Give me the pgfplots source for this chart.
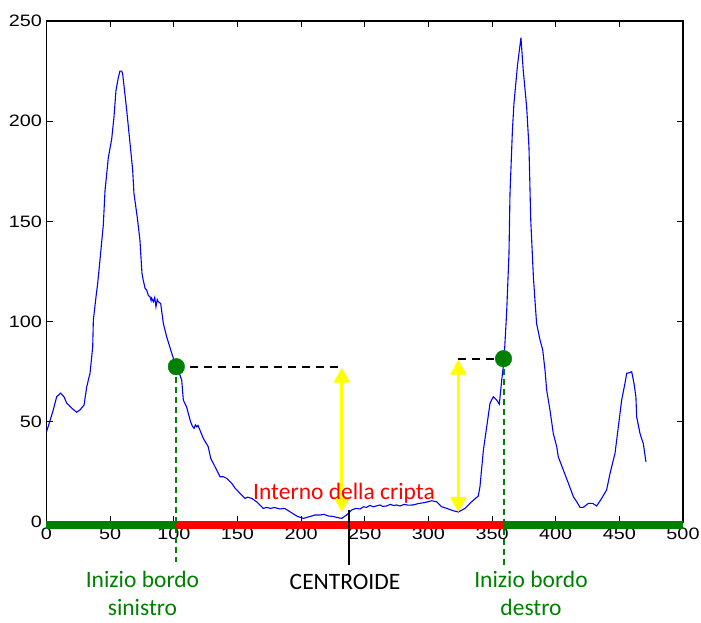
\documentclass[border=0pt]{standalone}
\usepackage{pgfplots}
\pgfplotsset{compat=1.18}
\usepackage{fontspec}
\setmainfont{Carlito}
\newfontfamily\tickfont[FakeStretch=1.2]{Liberation Sans}
\usetikzlibrary{arrows.meta}
\definecolor{mgreen}{RGB}{0,128,0}
\definecolor{myellow}{RGB}{255,255,0}
\tikzset{lbl/.style={anchor=base, inner sep=0pt, font=\fontsize{23.5}{28}\selectfont}}

\begin{document}
\begin{tikzpicture}
\useasboundingbox (-46.5pt,-100pt) rectangle (654.5pt,522pt);
\begin{axis}[
  scale only axis, width=636.5pt, height=501pt,
  xmin=0, xmax=500, ymin=0, ymax=250,
  xtick={0,50,...,500}, ytick={0,50,...,250},
  tick align=inside, major tick length=6pt,
  clip=false,
  axis line style={line width=1.1pt},
  tick style={black, line width=0.9pt},
  tick label style={font=\tickfont\fontsize{16.5}{18}\selectfont},
  /pgf/number format/assume math mode=true,
  xticklabel style={yshift=-2pt},
  yticklabel style={xshift=-1pt},
]
% intensity profile across the crypt
\addplot[blue, line width=1.1pt] coordinates {
(0,45) (2,49) (5.3,55.9) (8,62.5) (11,64.3) (13.7,62.5) (15.9,59.3) (19.8,56.8)
(23.7,54.8) (26.3,55.9) (29.5,58.4) (31.6,67.5) (34.2,74.3) (36.3,87.4) (36.8,100.7)
(38.9,112.4) (40.2,119) (42,130.7) (44.6,148) (46,165.6) (48.6,182) (51.2,191)
(53,202) (54.6,215.5) (56.5,222) (57.7,225) (59,225) (59.8,223.8) (63,205.5)
(65.6,189) (67.7,175.6) (68.7,164) (71.3,152) (73.4,140.6) (75,124) (76,120.7)
(77.4,116.7) (78.7,115.7) (80,113) (81.3,112.4) (82.2,110.5) (82.6,111.7) (84,109.9)
(85,112) (86,107.4) (87,111) (87.8,109.9) (89.7,109) (91.8,99) (94.4,92.4)
(97.6,85.8) (101,79) (104,75) (106.2,70.8) (107.5,60.8) (110,57.5) (113.2,50)
(114.5,48) (115.9,46.7) (117,48.5) (118,47.5) (119,48.2) (120,46.7) (123.2,41.7)
(127,37.6) (129,31.8) (133.7,25.9) (136.3,22.6) (139,22.6) (141.5,21.8) (145.5,19.3)
(148,17) (152,14.3) (156,11.8) (158,12.4) (161.2,11.8) (165,10.1) (170.3,6.8)
(173,7.3) (175.6,6.8) (179,7.2) (183.4,6.5) (187,6.8) (191.3,5.1) (196.5,3)
(201.7,1.8) (205,2.4) (208.3,3) (211,3.5) (214.8,3.5) (218,3.8) (221.4,3)
(225,2.8) (228,2.3) (231.9,1.8) (235.8,3.5) (239.7,6) (243,6.8) (246.3,6.5)
(249,7.6) (251.5,7.3) (254,8.3) (256.7,7.6) (259,8) (262,8.5) (264,7.8)
(267.2,8) (270,8.8) (273,8.2) (275,8.5) (277.7,8) (281,8.8) (284,8.4)
(288,8.5) (292,9.2) (296,9.6) (299,10) (302.6,10.6) (306.5,10.1) (308.5,8.8)
(310.4,7.6) (314.4,6.8) (319.6,5.6) (323.5,5) (328.8,6.8) (334,10.1) (339.2,13)
(340.5,17.6) (343.2,35.9) (345.8,47.5) (348.4,59.2) (351,62.5) (353.7,60.8)
(355.7,58.8) (357.6,70.8) (359.4,80.8) (361.5,105) (363.3,134) (364.1,164)
(366,195.5) (367.2,208.8) (370,228) (372.7,241.7) (374.5,225.4) (377.2,207)
(379,187) (380.4,150.6) (382.5,122) (383.7,110.7) (385,99) (387.7,90.8) (389.8,85.8)
(391.6,75.8) (392.9,65.8) (395.5,55.9) (398.1,44.2) (400.8,37.6) (402,32.6)
(406,25.9) (410,19.3) (413.9,12.6) (416.5,10.1) (419.1,7.3) (421.7,7.3)
(425.6,9.3) (429,9.3) (432.2,8) (436.1,11.8) (440,16) (442.7,24.3) (446.6,34.3)
(449.2,47.5) (451.8,60.8) (454.4,69.2) (455.8,74.2) (457.8,74.5) (459.7,75)
(461.5,69.2) (463,62.5) (463.6,52.5) (466.2,44.2) (468.8,39.2) (470.9,30)
};

% border segments along the baseline
\addplot[mgreen, line width=8pt] coordinates {(0,-1.5) (102,-1.5)};
\addplot[red, line width=8pt] coordinates {(102,-1.5) (359,-1.5)};
\addplot[mgreen, line width=8pt] coordinates {(359,-1.5) (500,-1.5)};

% edge markers
\draw[mgreen, line width=2pt, dash pattern=on 6pt off 4pt]
  (axis cs:102,77.5) -- (axis cs:102,-20);
\draw[mgreen, line width=2pt, dash pattern=on 6pt off 4pt]
  (axis cs:359,81.5) -- (axis cs:359,-21.5);
\draw[black, line width=2pt, dash pattern=on 8pt off 6pt]
  (axis cs:102,77.5) -- (axis cs:232,77.5);
\draw[black, line width=2pt, dash pattern=on 8pt off 6pt]
  (axis cs:323.5,81.5) -- (axis cs:359,81.5);

% depth arrows
\draw[myellow, line width=3pt, {Triangle[width=16pt,length=15pt]}-{Triangle[width=16pt,length=15pt]}]
  (axis cs:232,5) -- (axis cs:232,77);
\draw[myellow, line width=3pt, {Triangle[width=16pt,length=15pt]}-{Triangle[width=16pt,length=15pt]}]
  (axis cs:323.5,5) -- (axis cs:323.5,81);

% centroid
\draw[black, line width=2pt] (axis cs:238,6) -- (axis cs:238,-21.5);

\addplot[only marks, mark=*, mark size=8.3pt, mgreen] coordinates {(102,77.5) (359,81.5)};

\node[lbl, red] at (axis cs:233.7,11) {Interno della cripta};
\node[lbl, black] at (axis cs:234.5,-33.9) {CENTROIDE};
\node[lbl, mgreen] at (axis cs:75.4,-32.6) {Inizio bordo};
\node[lbl, mgreen] at (axis cs:75.4,-46.9) {sinistro};
\node[lbl, mgreen] at (axis cs:380.6,-32.6) {Inizio bordo};
\node[lbl, mgreen] at (axis cs:380.6,-46.9) {destro};
\end{axis}
\end{tikzpicture}
\end{document}
